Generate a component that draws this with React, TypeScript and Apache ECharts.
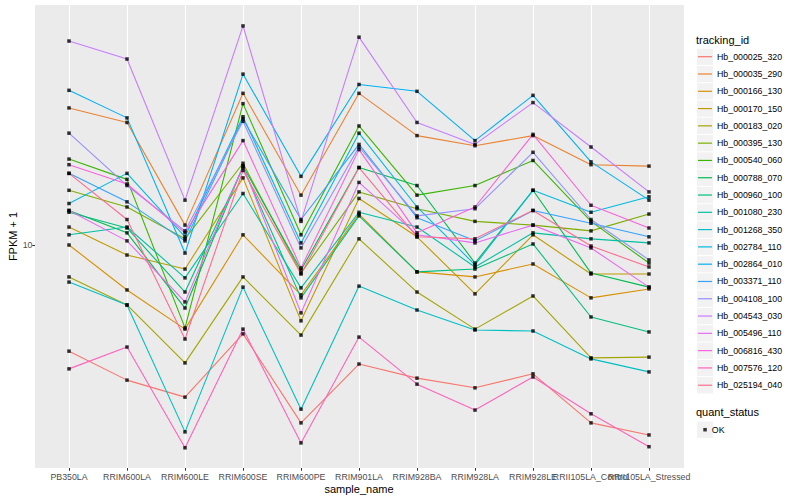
import React, { useEffect, useRef } from "react";
import * as echarts from "echarts";

const categories = [
  "PB350LA", "RRIM600LA", "RRIM600LE", "RRIM600SE", "RRIM600PE", "RRIM901LA",
  "RRIM928BA", "RRIM928LA", "RRIM928LE", "RRII105LA_Control", "RRII105LA_Stressed",
];

const trackingIds = [
  "Hb_000025_320", "Hb_000035_290", "Hb_000166_130", "Hb_000170_150", "Hb_000183_020",
  "Hb_000395_130", "Hb_000540_060", "Hb_000788_070", "Hb_000960_100", "Hb_001080_230",
  "Hb_001268_350", "Hb_002784_110", "Hb_002864_010", "Hb_003371_110", "Hb_004108_100",
  "Hb_004543_030", "Hb_005496_110", "Hb_006816_430", "Hb_007576_120", "Hb_025194_040",
];

const colors = [
  "#F8766D", "#EA8331", "#D89000", "#C09B00", "#A3A500", "#7CAE00", "#39B600", "#00BB4E",
  "#00BF7D", "#00C1A3", "#00BFC4", "#00BAE0", "#00B0F6", "#35A2FF", "#9590FF", "#C77CFF",
  "#E76BF3", "#FA62DB", "#FF62BC", "#FF6C91",
];

// FPKM + 1 values, one array per tracking id, in category order
const hb_000025_320 = [6.01, 5.23, 4.82, 6.53, 4.26, 5.65, 5.28, 5.04, 5.39, 4.26, 4.02];
const hb_000035_290 = [19.3, 18.0, 11.0, 20.7, 12.7, 20.7, 16.9, 16.1, 16.9, 14.7, 14.6];
const hb_000166_130 = [10.0, 8.06, 6.68, 10.5, 7.87, 11.6, 8.79, 8.58, 9.13, 7.76, 8.1];
const hb_000170_150 = [10.9, 9.53, 8.91, 13.8, 6.95, 12.5, 10.4, 7.91, 10.5, 8.7, 8.7];
const hb_000183_020 = [8.58, 7.5, 5.68, 8.58, 6.49, 10.3, 7.98, 6.68, 7.83, 5.82, 5.84];
const hb_000395_130 = [13.0, 12.0, 10.3, 14.8, 8.74, 12.9, 11.9, 11.2, 11.0, 10.7, 11.6];
const hb_000540_060 = [15.1, 13.7, 6.72, 19.7, 10.5, 17.7, 12.7, 13.3, 15.0, 11.2, 9.17];
const hb_000788_070 = [11.8, 10.6, 7.39, 14.6, 8.87, 14.5, 13.3, 9.17, 13.0, 8.74, 8.17];
const hb_000960_100 = [11.7, 10.85, 7.98, 14.5, 7.76, 11.5, 8.79, 8.91, 10.05, 7.08, 6.59];
const hb_001080_230 = [10.5, 10.9, 8.54, 12.8, 8.14, 11.7, 10.9, 9.0, 10.6, 10.3, 10.1];
const hb_001268_350 = [8.37, 7.5, 4.08, 8.17, 4.55, 8.21, 7.32, 6.65, 6.62, 5.79, 5.44];
const hb_002784_110 = [12.2, 14.1, 10.4, 18.5, 10.1, 17.1, 12.0, 9.09, 13.0, 11.7, 12.6];
const hb_002864_010 = [21.0, 18.4, 9.62, 22.7, 13.9, 21.6, 20.9, 16.5, 20.5, 14.9, 12.4];
const hb_003371_110 = [14.1, 12.3, 10.2, 18.3, 11.3, 16.2, 11.4, 10.2, 11.8, 11.1, 10.4];
const hb_004108_100 = [17.1, 13.3, 10.7, 18.1, 9.86, 16.0, 11.5, 11.9, 15.6, 11.3, 9.31];
const hb_004543_030 = [26.6, 24.4, 12.4, 28.6, 11.2, 27.1, 18.0, 16.2, 19.8, 16.0, 12.9];
const hb_005496_110 = [11.8, 10.2, 7.61, 14.6, 7.22, 13.5, 10.5, 10.1, 11.0, 9.86, 8.17];
const hb_006816_430 = [14.7, 13.4, 10.6, 16.5, 8.96, 15.8, 10.6, 12.0, 17.0, 12.1, 10.85];
const hb_007576_120 = [5.52, 6.13, 3.78, 6.68, 3.87, 6.43, 5.13, 4.53, 5.31, 4.45, 3.8];
const hb_025194_040 = [14.1, 11.3, 6.37, 14.3, 8.7, 14.5, 10.4, 10.3, 11.8, 9.95, 9.0];

const seriesValues = [
  hb_000025_320, hb_000035_290, hb_000166_130, hb_000170_150, hb_000183_020,
  hb_000395_130, hb_000540_060, hb_000788_070, hb_000960_100, hb_001080_230,
  hb_001268_350, hb_002784_110, hb_002864_010, hb_003371_110, hb_004108_100,
  hb_004543_030, hb_005496_110, hb_006816_430, hb_007576_120, hb_025194_040,
];

const yTickValues = [10];
const quantStatus = ["OK"];

const FONT = "'Liberation Sans', Arial, Helvetica, sans-serif";

export default function App() {
  const ref = useRef<HTMLDivElement>(null);

  useEffect(() => {
    if (!ref.current) return;
    const chart = echarts.init(ref.current, undefined, { renderer: "svg" });

    const lineSeries = trackingIds.map((name, i) => ({
      name,
      type: "line",
      data: seriesValues[i],
      showSymbol: false,
      symbol: "none",
      itemStyle: { color: colors[i] },
      lineStyle: { color: colors[i], width: 1.1 },
      z: 2,
    }));

    const points: [number, number][] = [];
    seriesValues.forEach((arr) => arr.forEach((v, j) => points.push([j, v])));

    const keyBoxes = trackingIds.map((_, i) => ({
      type: "rect",
      z: 0,
      silent: true,
      shape: { x: 697, y: 48.6 + i * 17.29, width: 16, height: 16.3 },
      style: { fill: "#F2F2F2" },
    }));

    chart.setOption({
      animation: false,
      textStyle: { fontFamily: FONT },
      title: [
        {
          text: "tracking_id",
          left: 696,
          top: 34.5,
          padding: 0,
          textStyle: { fontSize: 11, fontWeight: "normal", color: "#000", fontFamily: FONT },
        },
        {
          text: "quant_status",
          left: 696,
          top: 406,
          padding: 0,
          textStyle: { fontSize: 11, fontWeight: "normal", color: "#000", fontFamily: FONT },
        },
      ],
      graphic: {
        elements: [
          {
            type: "rect",
            z: -10,
            silent: true,
            shape: { x: 35, y: 5, width: 649, height: 463 },
            style: { fill: "#EBEBEB" },
          },
          ...keyBoxes,
          {
            type: "rect",
            z: 0,
            silent: true,
            shape: { x: 697, y: 421.6, width: 16, height: 16.3 },
            style: { fill: "#F2F2F2" },
          },
        ],
      },
      legend: [
        {
          orient: "vertical",
          left: 698,
          top: 51.7,
          padding: 0,
          itemWidth: 14,
          itemHeight: 1.2,
          itemGap: 7.29,
          itemTextGap: 5,
          icon: "rect",
          selectedMode: false,
          data: trackingIds,
          textStyle: { fontSize: 8.8, color: "#000", lineHeight: 10, fontFamily: FONT },
        },
        {
          orient: "vertical",
          left: 703.3,
          top: 424.7,
          padding: 0,
          itemWidth: 3.5,
          itemHeight: 3.5,
          itemTextGap: 10,
          icon: "rect",
          selectedMode: false,
          data: quantStatus,
          textStyle: { fontSize: 8.8, color: "#000", lineHeight: 10, fontFamily: FONT },
        },
      ],
      grid: { left: 40, right: 122, top: 5, bottom: 32, containLabel: false, outerBoundsMode: "none" },
      xAxis: {
        type: "category",
        data: categories,
        boundaryGap: true,
        name: "sample_name",
        nameLocation: "middle",
        nameGap: 15,
        nameMoveOverlap: false,
        nameTextStyle: { fontSize: 11, color: "#000", fontFamily: FONT },
        axisLine: { show: false },
        axisTick: { show: true, alignWithLabel: true, length: 2.75, lineStyle: { color: "#333333", width: 1 } },
        axisLabel: { interval: 0, fontSize: 8.8, color: "#4D4D4D", margin: 4, fontFamily: FONT },
        splitLine: { show: true, alignWithLabel: true, interval: 0, lineStyle: { color: "#FFFFFF", width: 1.1 } },
      },
      yAxis: {
        type: "log",
        logBase: 10,
        min: 3.431,
        max: 31.62,
        offset: 5,
        name: "FPKM + 1",
        nameLocation: "middle",
        nameGap: 17,
        nameMoveOverlap: false,
        nameTextStyle: { fontSize: 11, color: "#000", fontFamily: FONT },
        axisLine: { show: false },
        axisTick: { show: true, length: 2.75, customValues: yTickValues, lineStyle: { color: "#333333", width: 1 } },
        axisLabel: {
          fontSize: 8.8,
          color: "#4D4D4D",
          margin: 2.5,
          customValues: yTickValues,
          showMinLabel: false,
          showMaxLabel: false,
          fontFamily: FONT,
        },
        splitLine: { show: true, showMinLine: false, showMaxLine: false, lineStyle: { color: "#FFFFFF", width: 1.1 } },
        minorSplitLine: { show: false },
      },
      series: [
        ...lineSeries,
        {
          name: "OK",
          type: "scatter",
          data: points,
          symbol: "rect",
          symbolSize: 3.5,
          itemStyle: { color: "#000000" },
          z: 5,
        },
      ],
    });

    return () => chart.dispose();
  }, []);

  return <div ref={ref} style={{ position: "absolute", left: 0, top: 0, width: 800, height: 500 }} />;
}
